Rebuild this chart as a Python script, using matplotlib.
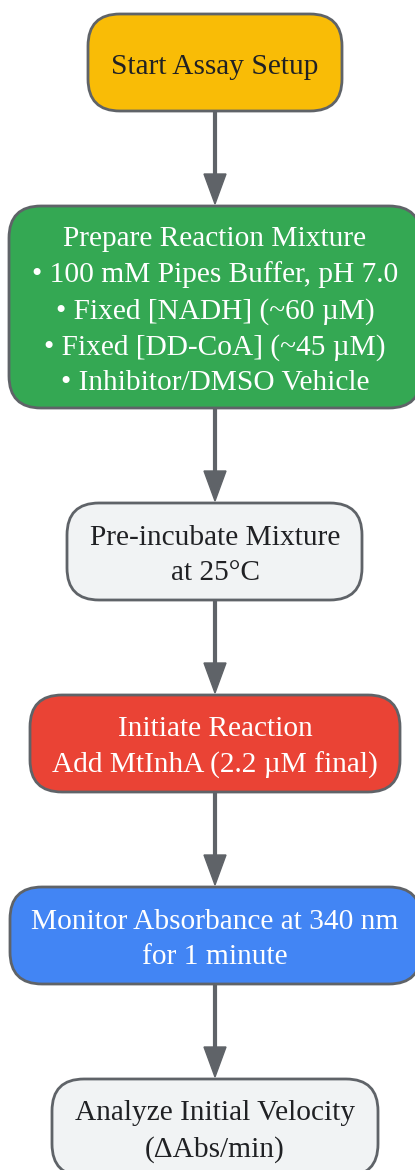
import matplotlib.pyplot as plt
from matplotlib.patches import FancyBboxPatch, Polygon

# step labels and fills
labels = [
    "Start Assay Setup",
    "Prepare Reaction Mixture\n• 100 mM Pipes Buffer, pH 7.0\n• Fixed [NADH] (~60 µM)\n• Fixed [DD-CoA] (~45 µM)\n• Inhibitor/DMSO Vehicle",
    "Pre-incubate Mixture\nat 25°C",
    "Initiate Reaction\nAdd MtInhA (2.2 µM final)",
    "Monitor Absorbance at 340 nm\nfor 1 minute",
    "Analyze Initial Velocity\n(ΔAbs/min)",
]
fills = ["#F9BC06", "#34A853", "#F1F3F4", "#EA4335", "#4285F4", "#F1F3F4"]
text_colors = ["#202124", "white", "#202124", "white", "white", "#202124"]

# layout in pixels (left, top, right, bottom)
boxes = [
    (88, 14, 342, 111),
    (9, 206, 421, 408),
    (67, 503, 362, 600),
    (30, 695, 400, 792),
    (10, 887, 421, 984),
    (52, 1079, 378, 1176),
]

W, H = 415, 1170
fig = plt.figure(figsize=(W / 100, H / 100), dpi=100)
ax = fig.add_axes([0, 0, 1, 1])
ax.set_xlim(0, W)
ax.set_ylim(H, 0)
ax.axis("off")

edge = "#5F6368"
cx = 215

for (l, t, r, b), lab, fc, tc in zip(boxes, labels, fills, text_colors):
    patch = FancyBboxPatch((l, t), r - l, b - t,
                           boxstyle="round,pad=0,rounding_size=32",
                           facecolor=fc, edgecolor=edge, linewidth=2)
    ax.add_patch(patch)
    ax.text(cx, (t + b) / 2 + 4, lab, ha="center", va="center",
            color=tc, fontsize=21.2, family=["Liberation Serif", "DejaVu Serif"],
            linespacing=1.45)

# arrows between steps
for (_, _, _, b0), (_, t1, _, _) in zip(boxes[:-1], boxes[1:]):
    ax.plot([cx, cx], [b0, t1 - 25], color=edge, linewidth=3, solid_capstyle="butt")
    ax.add_patch(Polygon([(cx - 11, t1 - 32), (cx + 11, t1 - 32), (cx, t1 - 2)],
                         closed=True, color=edge))

fig.savefig("out.png", dpi=100)
